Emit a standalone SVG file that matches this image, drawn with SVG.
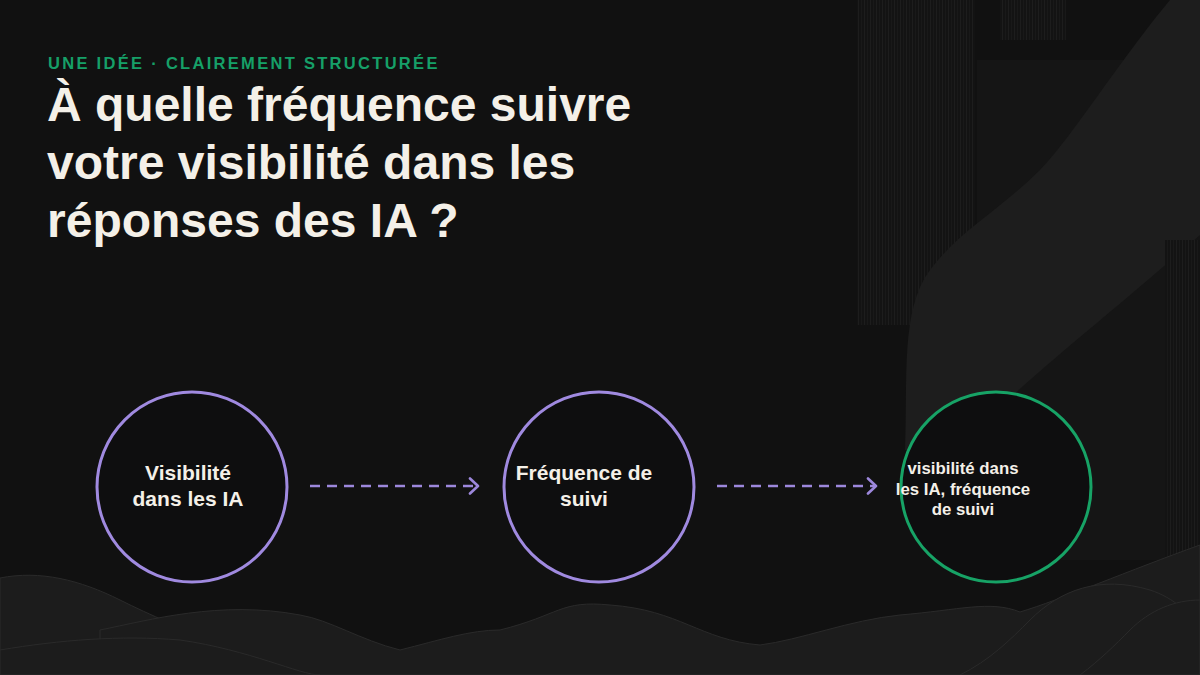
<svg xmlns="http://www.w3.org/2000/svg" width="1200" height="675" viewBox="0 0 1200 675">
<defs>
<style>
.title{font-family:"Liberation Sans",Arial,sans-serif;font-weight:700;font-size:48px;fill:#f4f0e8}
.kicker{font-family:"Liberation Sans",Arial,sans-serif;font-weight:700;font-size:16.5px;fill:#16a068;letter-spacing:2.3px}
.lbl{font-family:"Liberation Sans",Arial,sans-serif;font-weight:700;font-size:21px;fill:#f4f0e8;text-anchor:middle}
.lbls{font-family:"Liberation Sans",Arial,sans-serif;font-weight:700;font-size:16.8px;fill:#f4f0e8;text-anchor:middle}
.ring{fill:#0e0e0f;stroke:#a08ae0;stroke-width:3}
.ringg{fill:#0e0e0f;stroke:#17a366;stroke-width:3}
.edge{stroke:#9d88dc;stroke-width:2.5;stroke-dasharray:10 7;fill:none}
.wave{fill:#1c1c1c;stroke:#2a2a2a;stroke-width:1}
</style>
<marker id="ah" viewBox="0 0 18 18" refX="16" refY="9" markerWidth="18" markerHeight="18" markerUnits="userSpaceOnUse" orient="auto">
<path d="M8,1.5 L16,9 L8,16.5" fill="none" stroke="#9d88dc" stroke-width="2.6" stroke-linecap="round" stroke-linejoin="round"/>
</marker>
<pattern id="stripes" width="6" height="10" patternUnits="userSpaceOnUse">
<rect width="6" height="10" fill="#131313"/>
<rect x="0" width="1" height="10" fill="#1d1d1d"/>
<rect x="3" width="1" height="10" fill="#191919"/>
</pattern>
</defs>
<rect width="1200" height="675" fill="#111111"/>
<g id="decor">
<rect x="857" y="0" width="118" height="325" fill="url(#stripes)"/>
<rect x="1000" y="0" width="66" height="40" fill="url(#stripes)"/>
<rect x="977" y="60" width="250" height="500" fill="#151515"/>
<path d="M1200,0 L1170,0 C1120,60 1070,140 1040,170 C1000,210 960,230 930,270 C900,310 908,380 905,450 L960,450 C1010,390 1080,340 1200,235 Z" fill="#1d1d1d"/>
<rect x="1165" y="240" width="35" height="350" fill="url(#stripes)"/>
<path class="wave" d="M0,578 C40,570 80,580 120,600 C180,630 260,660 320,675 L0,675 Z"/>
<path class="wave" d="M100,630 C150,620 220,600 300,615 C330,620 360,640 400,650 C440,640 470,630 500,630 C560,615 560,600 610,605 C680,610 700,640 760,645 C800,640 850,620 900,615 C960,610 990,600 1020,612 C1060,600 1130,570 1200,545 L1200,675 L100,675 Z"/>
<path class="wave" d="M0,650 C60,640 120,635 180,640 C250,650 300,675 320,675 L0,675 Z"/>
<path class="wave" d="M1030,620 C1060,590 1100,575 1150,590 C1175,598 1190,615 1200,625 L1200,675 L960,675 C990,660 1010,640 1030,620 Z"/>
<path class="wave" d="M1130,630 C1150,610 1175,600 1200,600 L1200,675 L1080,675 C1100,660 1115,645 1130,630 Z"/>
</g>
<g id="heading">
<text class="kicker" x="48" y="69">UNE IDÉE · CLAIREMENT STRUCTURÉE</text>
<text class="title" x="47" y="121">À quelle fréquence suivre</text>
<text class="title" x="47" y="179">votre visibilité dans les</text>
<text class="title" x="47" y="237">réponses des IA ?</text>
</g>
<g id="connectors">
<line class="edge" x1="310" y1="486" x2="478" y2="486" marker-end="url(#ah)"/>
<line class="edge" x1="717" y1="486" x2="876" y2="486" marker-end="url(#ah)"/>
</g>
<g id="node1">
<circle class="ring" cx="192" cy="487" r="95"/>
<text class="lbl" x="188" y="480">Visibilité</text>
<text class="lbl" x="188" y="506">dans les IA</text>
</g>
<g id="node2">
<circle class="ring" cx="599" cy="487" r="95"/>
<text class="lbl" x="584" y="480">Fréquence de</text>
<text class="lbl" x="584" y="506">suivi</text>
</g>
<g id="node3">
<circle class="ringg" cx="996" cy="487" r="95"/>
<text class="lbls" x="963" y="474">visibilité dans</text>
<text class="lbls" x="963" y="495">les IA, fréquence</text>
<text class="lbls" x="963" y="515">de suivi</text>
</g>
</svg>
